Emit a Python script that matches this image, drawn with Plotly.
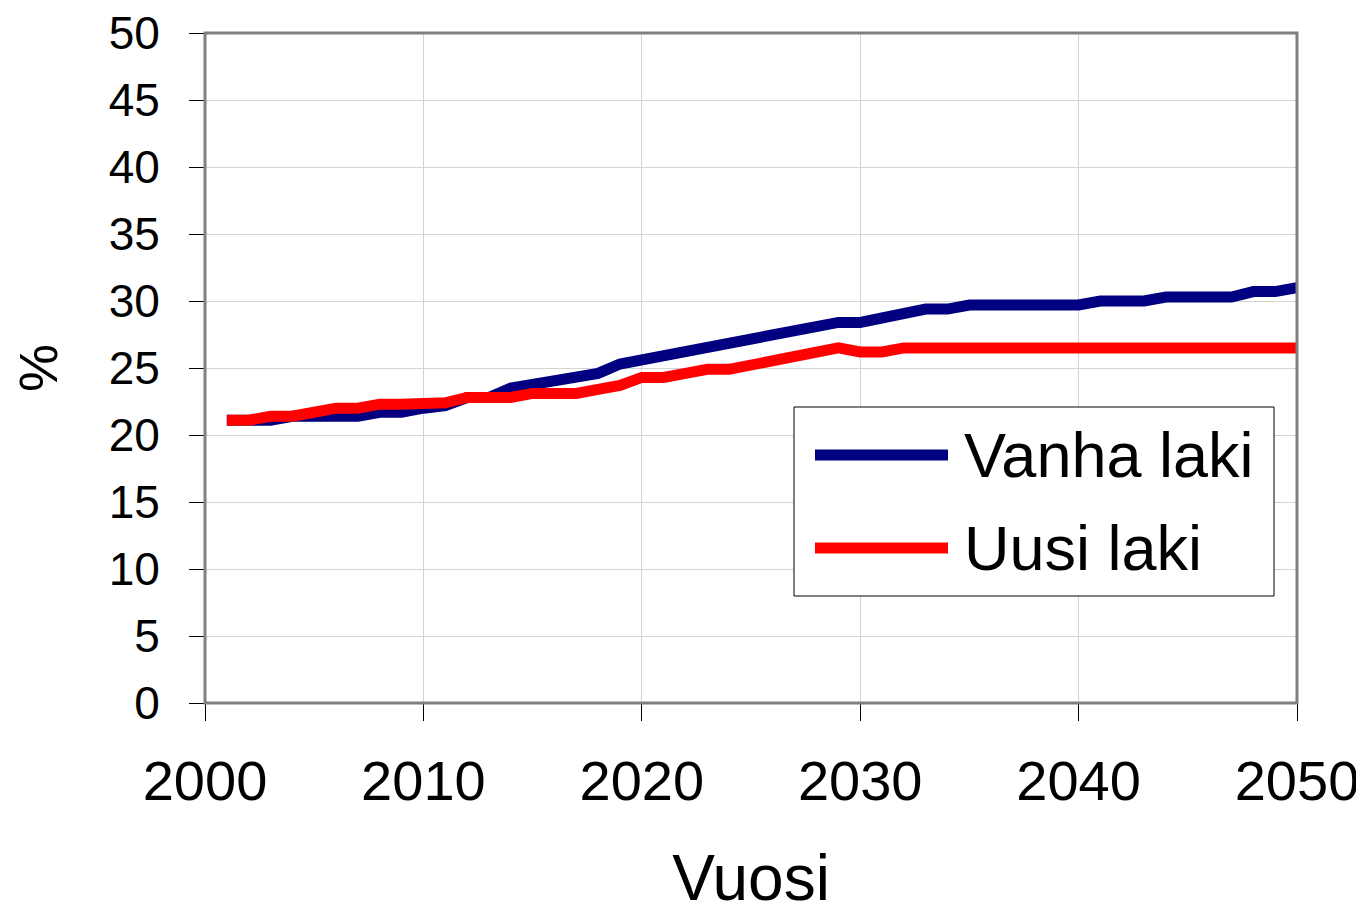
import plotly.graph_objects as go

years = list(range(2001, 2051))

vanha_laki = [
    21.1, 21.1, 21.1, 21.4, 21.4, 21.4, 21.4, 21.7, 21.7, 22.0,
    22.2, 22.8, 22.8, 23.5, 23.8, 24.0, 24.3, 24.6, 25.3, 25.6,
    25.9, 26.2, 26.5, 26.8, 27.1, 27.5, 27.8, 28.1, 28.4, 28.4,
    28.7, 29.0, 29.4, 29.4, 29.7, 29.7, 29.7, 29.7, 29.7, 29.7,
    30.0, 30.0, 30.0, 30.3, 30.3, 30.3, 30.3, 30.7, 30.7, 31.0,
]

uusi_laki = [
    21.1, 21.1, 21.4, 21.4, 21.7, 22.0, 22.0, 22.3, 22.3, 22.3,
    22.4, 22.8, 22.8, 22.8, 23.1, 23.1, 23.1, 23.4, 23.7, 24.3,
    24.3, 24.6, 24.9, 24.9, 25.2, 25.5, 25.8, 26.1, 26.5, 26.2,
    26.2, 26.5, 26.5, 26.5, 26.5, 26.5, 26.5, 26.5, 26.5, 26.5,
    26.5, 26.5, 26.5, 26.5, 26.5, 26.5, 26.5, 26.5, 26.5, 26.5,
]

series_names = ["Vanha laki", "Uusi laki"]
series_colors = ["#000080", "#FF0000"]

FONT = "Liberation Sans, Arial, sans-serif"

fig = go.Figure()
for name, vals, col in zip(series_names, [vanha_laki, uusi_laki], series_colors):
    fig.add_trace(go.Scatter(
        x=years, y=vals, mode="lines", name=name,
        line=dict(color=col, width=11), showlegend=False,
    ))

# the page adds an 8px body margin, so the figure is 8px smaller and shifted
fig.update_layout(
    width=1356, height=906,
    margin=dict(l=197, r=67, t=25, b=211),
    paper_bgcolor="white", plot_bgcolor="white",
    font=dict(family=FONT, color="black"),
)

fig.update_xaxes(
    range=[2000, 2050], dtick=10, tick0=2000, automargin=False,
    showgrid=True, gridcolor="#d4d4d4", gridwidth=1,
    ticks="outside", ticklen=17, tickcolor="black", tickwidth=1,
    showline=True, linecolor="black", linewidth=1,
    tickfont=dict(size=56, family=FONT),
    ticklabelstandoff=12, ticklabeloverflow="allow",
    title=dict(text="Vuosi", font=dict(size=64, family=FONT), standoff=47),
    zeroline=False,
)
fig.update_yaxes(
    range=[0, 50], dtick=5, tick0=0, automargin=False,
    showgrid=True, gridcolor="#d4d4d4", gridwidth=1,
    ticks="outside", ticklen=15, tickcolor="black", tickwidth=1,
    showline=True, linecolor="black", linewidth=1,
    tickfont=dict(size=46, family=FONT),
    ticklabelstandoff=20, ticklabeloverflow="allow",
    title=dict(text="%", font=dict(size=54, family=FONT), standoff=44),
    zeroline=False,
)

# plot-area frame
fig.add_shape(type="rect", xref="paper", yref="paper", x0=0, x1=1, y0=0, y1=1,
              line=dict(color="#808080", width=3), layer="above")

# custom legend (box, line samples, labels)
fig.add_shape(type="rect", xref="paper", yref="paper",
              x0=(794 - 205) / 1092, x1=(1274 - 205) / 1092,
              y0=(703 - 596) / 670, y1=(703 - 407) / 670,
              line=dict(color="black", width=1), fillcolor="white", layer="above")
legend_y = [455, 548]
for name, col, yy in zip(series_names, series_colors, legend_y):
    yp = (703 - yy) / 670
    fig.add_shape(type="line", xref="paper", yref="paper",
                  x0=(815 - 205) / 1092, x1=(948 - 205) / 1092, y0=yp, y1=yp,
                  line=dict(color=col, width=11), layer="above")
    fig.add_annotation(xref="paper", yref="paper", x=(962 - 205) / 1092, y=yp,
                       text=name, showarrow=False, xanchor="left", yanchor="middle",
                       font=dict(size=63, family=FONT, color="black"))

fig.write_html("out.html")
